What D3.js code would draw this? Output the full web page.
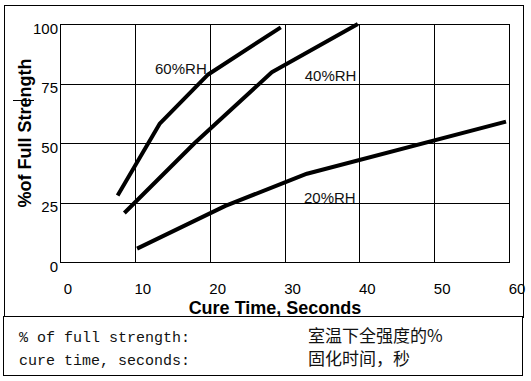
<!DOCTYPE html>
<html>
<head>
<meta charset="utf-8">
<script src="https://cdn.jsdelivr.net/npm/d3@7"></script>
<style>
  body { margin: 0; background: #fff; }
  svg { display: block; font-family: "Liberation Sans", Arial, sans-serif; }
</style>
</head>
<body>
<div id="chart"></div>
<script>
// data
const xTicks = [0, 10, 20, 30, 40, 50, 60];
const yTicks = [0, 25, 50, 75, 100];
const seriesNames = ["60%RH", "40%RH", "20%RH"];
const rh60 = [[7.7, 27.9], [13.3, 58.0], [19.8, 78.8], [29.5, 98.6]];
const rh40 = [[8.6, 20.6], [18.0, 50.0], [28.3, 79.7], [39.8, 100]];
const rh20 = [[10.3, 5.6], [22.1, 23.6], [33.0, 37.1], [59.6, 59.0]];
const notesEn = ["% of full strength:", "cure time, seconds:"];
const notesZh = ["室温下全强度的%", "固化时间，秒"];

const series = [rh60, rh40, rh20];
// where each series name sits (in data units)
const labelAt = [[12.7, 78.9], [32.7, 76.2], [32.6, 25.0]];

const width = 531;
const height = 381;

const svg = d3.select("#chart")
    .append("svg")
    .attr("width", width)
    .attr("height", height);

svg.append("rect")
    .attr("width", width)
    .attr("height", height)
    .attr("fill", "#fff");

// outer frame of the chart
svg.append("rect")
    .attr("x", 4.5).attr("y", 5.5)
    .attr("width", 519).attr("height", 312)
    .attr("fill", "none").attr("stroke", "#000");

const x = d3.scaleLinear().domain([0, 60]).range([60, 509]);
const y = d3.scaleLinear().domain([0, 100]).range([262, 24]);

const plotW = x(60) - x(0);
const plotH = y(0) - y(100);

// series names first, so the grid runs over them like in the original
svg.selectAll(".rh-label")
    .data(seriesNames)
    .join("text")
    .attr("class", "rh-label")
    .attr("x", (d, i) => x(labelAt[i][0]))
    .attr("y", (d, i) => y(labelAt[i][1]))
    .attr("font-size", 15)
    .attr("fill", "#111")
    .text(d => d);

// grid + y labels
const yAxis = d3.axisLeft(y)
    .tickValues(yTicks)
    .tickSize(-plotW)
    .tickSizeOuter(0)
    .tickPadding(2);

const gy = svg.append("g")
    .attr("transform", `translate(${x(0)},0)`)
    .call(yAxis);
gy.select(".domain").remove();
gy.selectAll("line").attr("stroke", "#000").attr("shape-rendering", "crispEdges");
gy.selectAll("text")
    .attr("dy", "9px")
    .attr("fill", "#000")
    .style("font-size", "15px")
    .style("font-family", "'Liberation Sans', Arial, sans-serif");

// grid + x labels
const xAxis = d3.axisBottom(x)
    .tickValues(xTicks)
    .tickSize(-plotH)
    .tickSizeOuter(0);

const gx = svg.append("g")
    .attr("transform", `translate(0,${y(0)})`)
    .call(xAxis);
gx.select(".domain").remove();
gx.selectAll("line").attr("stroke", "#000").attr("shape-rendering", "crispEdges");
gx.selectAll("text")
    .attr("y", 32)
    .attr("x", 7.5)
    .attr("dy", 0)
    .attr("fill", "#000")
    .style("font-size", "15px")
    .style("font-family", "'Liberation Sans', Arial, sans-serif");

// plot border
svg.append("rect")
    .attr("x", x(0)).attr("y", y(100))
    .attr("width", plotW).attr("height", plotH)
    .attr("fill", "none").attr("stroke", "#000")
    .attr("shape-rendering", "crispEdges");

const line = d3.line()
    .x(d => x(d[0]))
    .y(d => y(d[1]));

svg.selectAll(".curve")
    .data(series)
    .join("path")
    .attr("class", "curve")
    .attr("d", line)
    .attr("fill", "none")
    .attr("stroke", "#000")
    .attr("stroke-width", 4)
    .attr("stroke-linejoin", "round");

// axis titles
svg.append("text")
    .attr("x", 275)
    .attr("y", 314)
    .attr("text-anchor", "middle")
    .attr("font-size", 18)
    .attr("font-weight", "bold")
    .text("Cure Time, Seconds");

svg.append("text")
    .attr("transform", "translate(31,133) rotate(-90)")
    .attr("text-anchor", "middle")
    .attr("font-size", 18)
    .attr("font-weight", "bold")
    .text("%of Full Strength");

// small stray tick seen on the y title
svg.append("line")
    .attr("x1", 13).attr("x2", 34)
    .attr("y1", 100.5).attr("y2", 100.5)
    .attr("stroke", "#000");

// translation box underneath
svg.append("rect")
    .attr("x", 3.5).attr("y", 316.5)
    .attr("width", 519).attr("height", 59)
    .attr("fill", "#fff").attr("stroke", "#000");

svg.selectAll(".note-en")
    .data(notesEn)
    .join("text")
    .attr("class", "note-en")
    .attr("x", 19)
    .attr("y", (d, i) => 342 + i * 23)
    .attr("font-family", "'Liberation Mono', 'DejaVu Sans Mono', monospace")
    .attr("font-size", 15)
    .attr("fill", "#111")
    .attr("xml:space", "preserve")
    .text(d => d);

svg.selectAll(".note-zh")
    .data(notesZh)
    .join("text")
    .attr("class", "note-zh")
    .attr("x", 308)
    .attr("y", (d, i) => 342 + i * 23)
    .attr("font-family", "'Noto Sans CJK SC', sans-serif")
    .attr("font-size", 17)
    .attr("fill", "#111")
    .text(d => d);
</script>
</body>
</html>
